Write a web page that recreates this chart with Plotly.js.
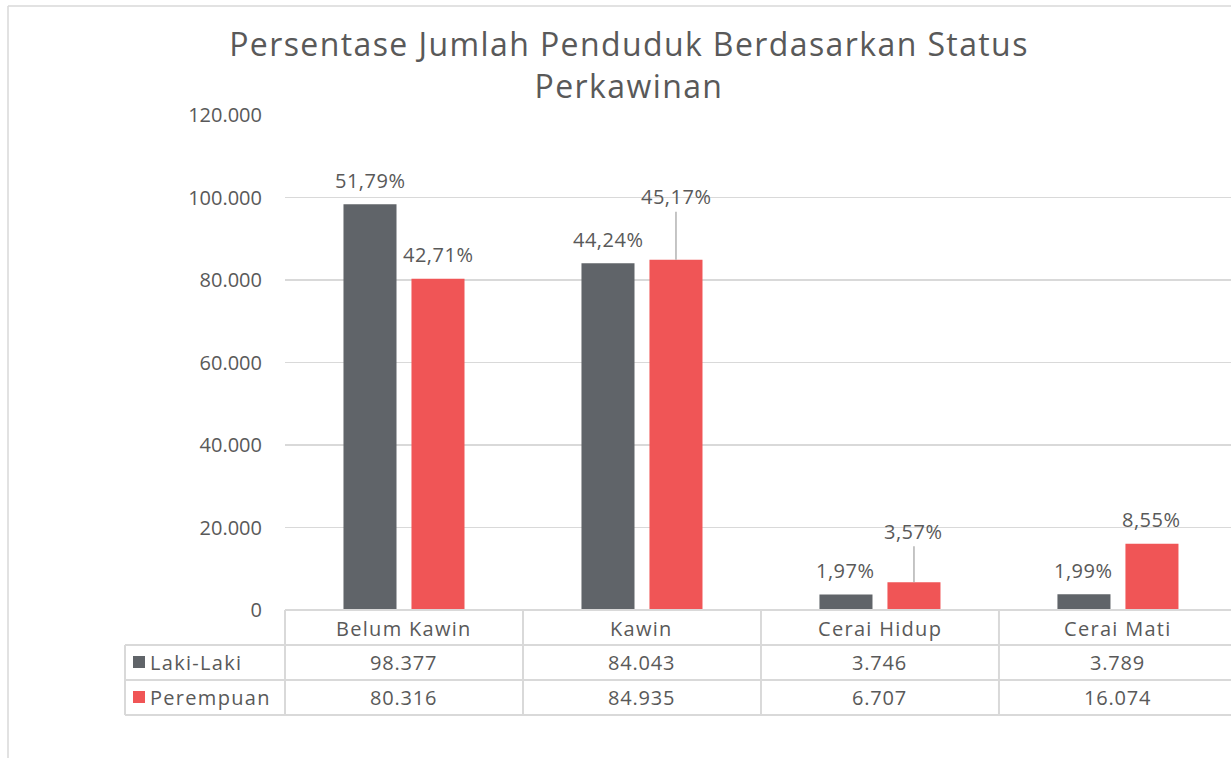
<!DOCTYPE html>
<html><head><meta charset="utf-8">
<script src="https://cdn.plot.ly/plotly-3.0.1.min.js"></script>
<style>html,body{margin:0;padding:0;background:#fff;}#chart{width:1231px;height:758px;}</style>
</head><body><div id="chart"></div>
<script>
const categories = ["Belum Kawin", "Kawin", "Cerai Hidup", "Cerai Mati"];
const seriesNames = ["Laki-Laki", "Perempuan"];
const lakiLaki = [98377, 84043, 3746, 3789];
const perempuan = [80316, 84935, 6707, 16074];
const pctLaki = ["51,79%", "44,24%", "1,97%", "1,99%"];
const pctPerempuan = ["42,71%", "45,17%", "3,57%", "8,55%"];
const yTicks = [0, 20000, 40000, 60000, 80000, 100000, 120000];

const GRAY = "#606469", RED = "#F05556", TXT = "#595959", LINE = "#D9D9D9";
const FONT = "Open Sans, sans-serif";

function fmt(n){ return String(n).replace(/\B(?=(\d{3})+(?!\d))/g, "."); }
function sp(t, ls){ return "<span style='letter-spacing:" + ls + "px'>" + t + "</span>"; }

const traces = [
  {type:"bar", name:seriesNames[0], x:categories, y:lakiLaki, marker:{color:GRAY}, hoverinfo:"none"},
  {type:"bar", name:seriesNames[1], x:categories, y:perempuan, marker:{color:RED}, hoverinfo:"none"}
];

const annotations = [];
const shapes = [];
const BAR_OFF = 34;
const LBL = {family:FONT, size:20, color:TXT};
const TBL = {family:FONT, size:20, color:TXT};
const leader = {"1": -63, "2": -51};
categories.forEach((c, i) => {
  annotations.push({x:c, y:lakiLaki[i], xref:"x", yref:"y", text:sp(pctLaki[i], 0.5), showarrow:false,
    xshift:-BAR_OFF, yshift:24, xanchor:"center", yanchor:"middle", font:LBL});
  if (leader[i] !== undefined) {
    annotations.push({x:c, y:perempuan[i], xref:"x", yref:"y", text:sp(pctPerempuan[i], 0.5), showarrow:true,
      arrowhead:0, arrowwidth:1.3, arrowcolor:"#A6A6A6", ax:0, ay:leader[i], xshift:BAR_OFF, standoff:0, font:LBL});
  } else {
    annotations.push({x:c, y:perempuan[i], xref:"x", yref:"y", text:sp(pctPerempuan[i], 0.5), showarrow:false,
      xshift:BAR_OFF, yshift:24, xanchor:"center", yanchor:"middle", font:LBL});
  }
});

const pxY = v => (610 - v) / 495;
const pxX = v => (v - 285) / 946;
const rowsY = [pxY(628), pxY(662), pxY(697)];
categories.forEach((c, i) => {
  annotations.push({x:c, y:rowsY[0], xref:"x", yref:"paper", text:sp(c, 1.3), showarrow:false, xanchor:"center", yanchor:"middle", font:TBL});
  annotations.push({x:c, y:rowsY[1], xref:"x", yref:"paper", text:sp(fmt(lakiLaki[i]), 0.8), showarrow:false, xanchor:"center", yanchor:"middle", font:TBL});
  annotations.push({x:c, y:rowsY[2], xref:"x", yref:"paper", text:sp(fmt(perempuan[i]), 0.8), showarrow:false, xanchor:"center", yanchor:"middle", font:TBL});
});
[[seriesNames[0], GRAY, 662], [seriesNames[1], RED, 697]].forEach(([n, col, py]) => {
  annotations.push({x:pxX(148), y:pxY(py), xref:"paper", yref:"paper", text:sp(n, 1.3),
    showarrow:false, xanchor:"left", yanchor:"middle", font:TBL});
  shapes.push({type:"rect", xref:"paper", yref:"paper", x0:pxX(133), x1:pxX(145), y0:pxY(py-6), y1:pxY(py+6),
    fillcolor:col, line:{width:0}, layer:"above"});
});

const ln = (x0,y0,x1,y1,xref) => ({type:"line", xref:xref||"paper", yref:"paper", x0, y0, x1, y1, line:{color:LINE, width:2}, layer:"above"});
shapes.push(ln(0, pxY(610), 1.02, pxY(610)));
shapes.push(ln(pxX(125), pxY(645), 1.02, pxY(645)));
shapes.push(ln(pxX(125), pxY(680), 1.02, pxY(680)));
shapes.push(ln(pxX(125), pxY(715), 1.02, pxY(715)));
shapes.push(ln(pxX(125), pxY(645), pxX(125), pxY(715)));
shapes.push(ln(0, pxY(610), 0, pxY(715)));
[0.5, 1.5, 2.5].forEach(v => shapes.push(ln(v, pxY(610), v, pxY(715), "x")));
shapes.push({type:"line", xref:"paper", yref:"paper", x0:pxX(8), y0:pxY(6), x1:pxX(8), y1:pxY(760), line:{color:LINE, width:1.5}, layer:"above"});
shapes.push({type:"line", xref:"paper", yref:"paper", x0:pxX(8), y0:pxY(6), x1:1.02, y1:pxY(6), line:{color:LINE, width:1.5}, layer:"above"});

const layout = {
  width:1231, height:758,
  margin:{l:285, r:0, t:115, b:148},
  paper_bgcolor:"#fff", plot_bgcolor:"#fff",
  separators:",.",
  showlegend:false,
  barmode:"group", bargap:0.4286, bargroupgap:0.22,
  title:{text:sp("Persentase Jumlah Penduduk Berdasarkan Status", 1.4) + "<br>" + sp("Perkawinan", 1.4),
    x:629/1231, xanchor:"center", y:1-(56/758), yanchor:"middle", yref:"container",
    font:{family:FONT, size:32, color:TXT}},
  xaxis:{type:"category", range:[-0.5, 3.475], showticklabels:false, showgrid:false, zeroline:false, showline:false, ticks:""},
  yaxis:{range:[0,120000], tickvals:yTicks, tickformat:",d", showgrid:true, gridcolor:LINE, gridwidth:1.5, zeroline:false,
    showline:false, ticks:"", ticklabelstandoff:22, tickfont:{family:FONT, size:20, color:TXT}},
  annotations, shapes,
  font:{family:FONT, color:TXT}
};
Plotly.newPlot("chart", traces, layout, {displayModeBar:false, staticPlot:true});
</script></body></html>
